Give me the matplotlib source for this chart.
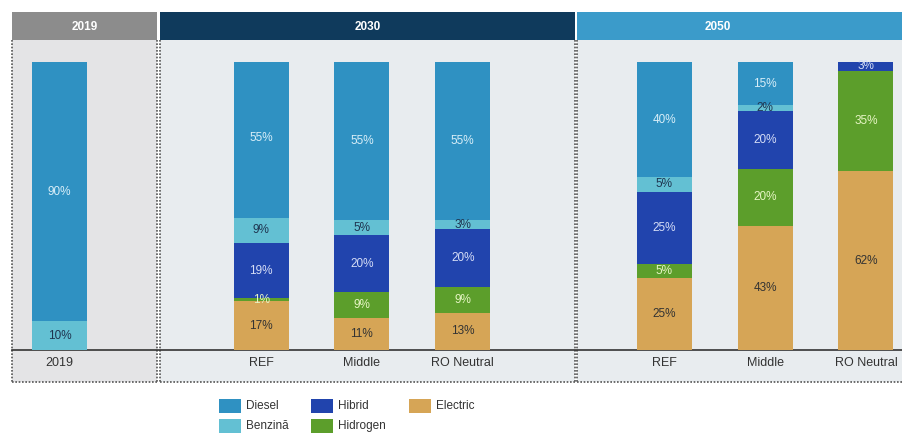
import matplotlib
matplotlib.use("Agg")
import matplotlib.pyplot as plt
from matplotlib.patches import Rectangle
import numpy as np

plt.rcParams['font.family'] = ['Liberation Sans', 'DejaVu Sans']

# data (percent shares, bottom -> top)
series = ["Electric", "Hidrogen", "Hibrid", "Benzină", "Diesel"]
cat_labels = ["2019", "REF", "Middle", "RO Neutral", "REF", "Middle", "RO Neutral"]
electric = [0, 17, 11, 13, 25, 43, 62]
hidrogen = [0, 1, 9, 9, 5, 20, 35]
hibrid = [0, 19, 20, 20, 25, 20, 3]
benzina = [10, 9, 5, 3, 5, 2, 0]
diesel = [90, 55, 55, 55, 40, 15, 0]
groups = ["2019", "2030", "2050"]

colors = {"Diesel": "#2f91c2", "Benzină": "#63c0d3", "Hibrid": "#2144ad",
          "Hidrogen": "#5c9e2b", "Electric": "#d6a556"}
txt_colors = {"Diesel": "#d8eef8", "Benzină": "#1f3550", "Hibrid": "#d5ddf6",
              "Hidrogen": "#e6f5c4", "Electric": "#333333"}

W, H = 903, 437
fig = plt.figure(figsize=(W / 100, H / 100), dpi=100)

# background / decoration layer in pixel coords
bg = fig.add_axes([0, 0, 1, 1])
bg.set_xlim(0, W)
bg.set_ylim(H, 0)
bg.axis("off")

panels = [(12, 157, "#e4e4e6", "#8c8c8c"),
          (160, 575, "#e8ecef", "#0f3a5c"),
          (577, W, "#e8ecef", "#3b9bca")]
for (x0, x1, fc, hc), g in zip(panels, groups):
    bg.add_patch(Rectangle((x0, 40), x1 - x0, 342, facecolor=fc, edgecolor="none"))
    bg.add_patch(Rectangle((x0, 12), x1 - x0, 28, facecolor=hc, edgecolor="none"))
    bg.text((x0 + min(x1, 858)) / 2, 27, g, color="white", fontsize=8.5,
            fontweight="bold", ha="center", va="center")
    bg.plot([x0, x0], [40, 382], color="#555555", lw=1.2, ls=(0, (1, 1)))
    bg.plot([x0, x1], [382, 382], color="#555555", lw=1.2, ls=(0, (1, 1)))
    if x1 < W:
        bg.plot([x1, x1], [40, 382], color="#555555", lw=1.2, ls=(0, (1, 1)))
bg.plot([12, W], [350, 350], color="#333333", lw=1.2)

# bars in data axes: slot positions
pos = np.array([0, 2, 3, 4, 6, 7, 8])
slot = 100.8
x_left = -59.5 / slot
x_right = (W - 59.5) / slot
ax = fig.add_axes([0, 87 / H, 1, 288 / H])
ax.set_xlim(x_left, x_right)
ax.set_ylim(0, 100)
ax.axis("off")

vals = {"Electric": electric, "Hidrogen": hidrogen, "Hibrid": hibrid,
        "Benzină": benzina, "Diesel": diesel}
bottom = np.zeros(len(pos))
width = 55 / slot
for s in series:
    v = np.array(vals[s], dtype=float)
    ax.bar(pos, v, width, bottom=bottom, color=colors[s], edgecolor="none")
    for x, b, h in zip(pos, bottom, v):
        if h > 0:
            ax.text(x, b + h / 2, f"{int(h)}%", ha="center", va="center",
                    fontsize=8.5, color=txt_colors[s])
    bottom += v

for x, lab in zip(pos, cat_labels):
    ax.text(x, -4.5, lab, ha="center", va="center", fontsize=9, color="#333333",
            clip_on=False)

# legend
leg = [("Diesel", 219, 406), ("Hibrid", 311, 406), ("Electric", 409, 406),
       ("Benzină", 219, 426), ("Hidrogen", 311, 426)]
for name, lx, ly in leg:
    bg.add_patch(Rectangle((lx, ly - 7), 22, 14, facecolor=colors[name], edgecolor="none"))
    bg.text(lx + 27, ly, name, fontsize=8.5, color="#333333", va="center", ha="left")

fig.savefig("out.png", dpi=100)
